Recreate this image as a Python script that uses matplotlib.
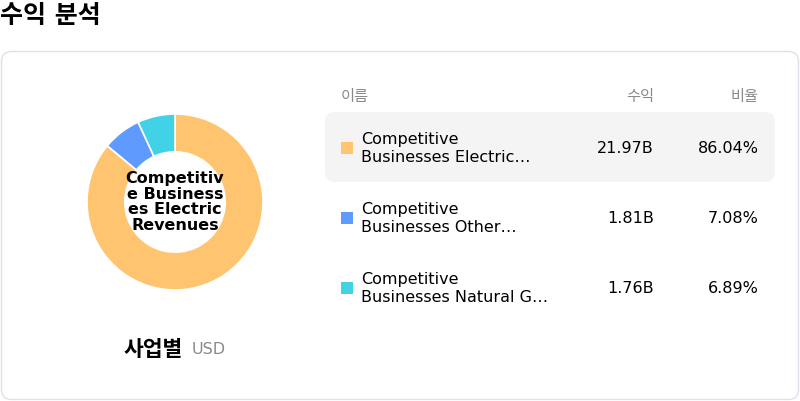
import matplotlib.pyplot as plt
from matplotlib.patches import FancyBboxPatch, Rectangle

plt.rcParams['font.family'] = ['DejaVu Sans', 'Noto Sans CJK KR']

# Data
segments = ['Competitive\nBusinesses Electric…',
            'Competitive\nBusinesses Other…',
            'Competitive\nBusinesses Natural G…']
revenues = [21.97, 1.81, 1.76]  # billions USD
shares = [86.04, 7.08, 6.89]
colors = ['#FFC46F', '#5F9BFE', '#42D2E8']
center_label = 'Competitiv\ne Business\nes Electric\nRevenues'

W, H = 800, 402
fig = plt.figure(figsize=(W / 100, H / 100), dpi=100)

# background axes in pixel coordinates
bg = fig.add_axes([0, 0, 1, 1])
bg.set_xlim(0, W)
bg.set_ylim(H, 0)
bg.axis('off')

bg.text(0, 16, '수익 분석', fontsize=18, fontweight='bold', va='center', ha='left')

card = FancyBboxPatch((1.5, 52.5), 797, 348, boxstyle='round,pad=0,rounding_size=10',
                      facecolor='white', edgecolor='#e1dfe9', linewidth=1)
bg.add_patch(card)

# table header
hdr_y = 96
bg.text(341, hdr_y, '이름', fontsize=11, color='#8a8a8a', va='center', ha='left')
bg.text(654, hdr_y, '수익', fontsize=11, color='#8a8a8a', va='center', ha='right')
bg.text(759, hdr_y, '비율', fontsize=11, color='#8a8a8a', va='center', ha='right')

# highlighted first row
hl = FancyBboxPatch((325, 113), 450, 70, boxstyle='round,pad=0,rounding_size=10',
                    facecolor='#f4f4f4', edgecolor='none')
bg.add_patch(hl)

row_y = [148, 218, 288]
for y, name, rev, pct, c in zip(row_y, segments, revenues, shares, colors):
    bg.add_patch(Rectangle((341, y - 5), 12, 12, facecolor=c, edgecolor='none'))
    bg.text(361, y + 1, name, fontsize=11.5, va='center', ha='left', linespacing=1.25)
    bg.text(654, y + 1, f'{rev:.2f}B', fontsize=11.5, va='center', ha='right')
    bg.text(759, y + 1, f'{pct:.2f}%', fontsize=11.5, va='center', ha='right')

# caption under donut
bg.text(124, 350, '사업별', fontsize=15.5, fontweight='bold', va='center', ha='left')
bg.text(192, 350, 'USD', fontsize=11.5, color='#8a8a8a', va='center', ha='left')

# donut
cx, cy, r = 175, 203, 88
ax = fig.add_axes([(cx - r) / W, (H - cy - r) / H, 2 * r / W, 2 * r / H])
ax.pie(shares, colors=colors, startangle=90, counterclock=False, radius=1,
       wedgeprops=dict(width=0.43, edgecolor='white', linewidth=1.2))
ax.set_xlim(-1, 1)
ax.set_ylim(-1, 1)
ax.set_aspect('equal')
ax.axis('off')
ax.text(0, 0.01, center_label, fontsize=11.5, fontweight='bold', ha='center', va='center',
        linespacing=1.05)

fig.savefig('out.png', dpi=100)
